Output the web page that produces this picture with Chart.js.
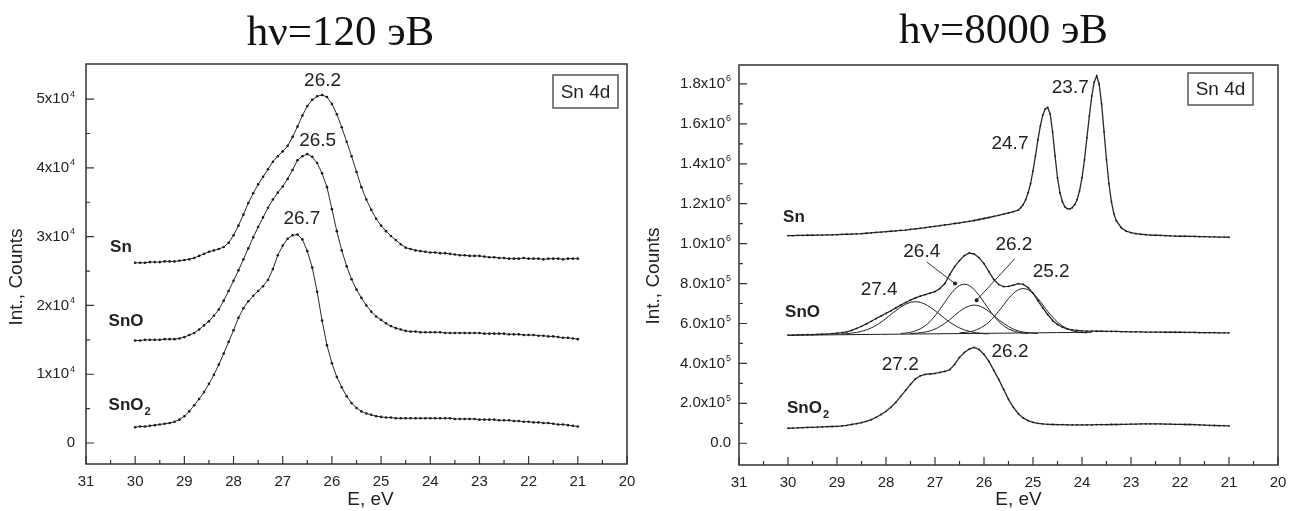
<!DOCTYPE html>
<html>
<head>
<meta charset="utf-8">
<script src="https://cdn.jsdelivr.net/npm/chart.js@4.4.1/dist/chart.umd.min.js"></script>
<style>
  html, body { margin: 0; padding: 0; background: #fff; }
  #wrap { position: relative; width: 1289px; height: 511px; }
  .panel { position: absolute; top: 0; }
  #left { left: 0; }
  #right { left: 640px; }
</style>
</head>
<body>
<div id="wrap">
  <div class="panel" id="left"><canvas id="chartLow" width="640" height="511"></canvas></div>
  <div class="panel" id="right"><canvas id="chartHigh" width="649" height="511"></canvas></div>
</div>
<script>
// Sn 4d spectra, two photon energies

const energyTicks = [31, 30, 29, 28, 27, 26, 25, 24, 23, 22, 21, 20];
// '_' marks a subscript, '^' a superscript (drawn small by drawRich)
const sampleNames = ['Sn', 'SnO', 'SnO_2'];

// hν = 120 eV, intensity in units of 10^4 counts
const lowEnergy = [30.0,29.9,29.8,29.7,29.6,29.5,29.4,29.3,29.2,29.1,29.0,28.9,28.8,28.7,28.6,28.5,28.4,28.3,28.2,28.1,
  28.0,27.9,27.8,27.7,27.6,27.5,27.4,27.3,27.2,27.1,27.0,26.9,26.8,26.7,26.6,26.5,26.4,26.3,26.2,26.1,
  26.0,25.9,25.8,25.7,25.6,25.5,25.4,25.3,25.2,25.1,25.0,24.9,24.8,24.7,24.6,24.5,24.4,24.3,24.2,24.1,
  24.0,23.9,23.8,23.7,23.6,23.5,23.4,23.3,23.2,23.1,23.0,22.9,22.8,22.7,22.6,22.5,22.4,22.3,22.2,22.1,
  22.0,21.9,21.8,21.7,21.6,21.5,21.4,21.3,21.2,21.1,21.0];
const lowSn = [2.62,2.62,2.62,2.63,2.63,2.63,2.64,2.64,2.64,2.65,2.66,2.67,2.69,2.72,2.75,2.78,2.80,2.82,2.85,2.91,
  3.02,3.16,3.32,3.49,3.63,3.76,3.87,3.98,4.09,4.17,4.24,4.32,4.45,4.60,4.76,4.90,4.99,5.04,5.06,5.03,
  4.93,4.78,4.59,4.38,4.17,3.94,3.72,3.54,3.39,3.26,3.16,3.08,3.01,2.95,2.89,2.84,2.82,2.80,2.79,2.78,
  2.77,2.77,2.76,2.76,2.75,2.74,2.73,2.73,2.72,2.72,2.72,2.71,2.70,2.70,2.69,2.69,2.68,2.68,2.68,2.69,
  2.68,2.68,2.68,2.67,2.68,2.68,2.68,2.67,2.68,2.68,2.68];
const lowSnO = [1.49,1.49,1.50,1.50,1.50,1.50,1.51,1.51,1.51,1.52,1.54,1.57,1.60,1.65,1.71,1.77,1.85,1.94,2.07,2.21,
  2.36,2.51,2.67,2.83,2.99,3.14,3.28,3.42,3.54,3.64,3.73,3.84,3.97,4.11,4.17,4.20,4.16,4.07,3.92,3.72,
  3.40,3.08,2.80,2.57,2.38,2.23,2.11,2.00,1.91,1.84,1.79,1.74,1.70,1.67,1.65,1.63,1.62,1.62,1.61,1.61,
  1.61,1.61,1.61,1.60,1.60,1.60,1.60,1.60,1.60,1.60,1.60,1.59,1.59,1.59,1.59,1.59,1.58,1.58,1.58,1.57,
  1.57,1.57,1.56,1.56,1.55,1.55,1.54,1.53,1.53,1.52,1.51];
const lowSnO2 = [0.23,0.24,0.24,0.25,0.26,0.27,0.28,0.29,0.31,0.34,0.39,0.46,0.55,0.64,0.74,0.86,0.99,1.14,1.30,1.47,
  1.64,1.82,1.96,2.06,2.14,2.21,2.28,2.37,2.53,2.73,2.87,2.97,3.02,3.03,2.96,2.79,2.55,2.20,1.78,1.42,
  1.16,0.96,0.81,0.68,0.58,0.51,0.46,0.43,0.41,0.39,0.38,0.37,0.37,0.36,0.36,0.36,0.36,0.36,0.36,0.36,
  0.36,0.36,0.36,0.36,0.36,0.35,0.35,0.35,0.35,0.35,0.34,0.34,0.34,0.34,0.33,0.33,0.33,0.32,0.32,0.31,
  0.31,0.30,0.30,0.29,0.29,0.28,0.27,0.27,0.26,0.25,0.24];
const lowCountTicks = [0, 1, 2, 3, 4, 5];
const lowCountLabels = ['0', '1x10^4', '2x10^4', '3x10^4', '4x10^4', '5x10^4'];
const lowPeakText = ['26.2', '26.5', '26.7'];

// hν = 8000 eV, intensity in units of 10^6 counts
const highEnergy = lowEnergy;
const highSnEnergy = [30.0,29.9,29.8,29.7,29.6,29.5,29.4,29.3,29.2,29.1,29.0,28.9,28.8,28.7,28.6,28.5,28.4,28.3,28.2,28.1,
  28.0,27.9,27.8,27.7,27.6,27.5,27.4,27.3,27.2,27.1,27.0,26.9,26.8,26.7,26.6,26.5,26.4,26.3,26.2,26.1,
  26.0,25.9,25.8,25.7,25.6,25.5,25.4,25.3,
  25.25,25.2,25.15,25.1,25.05,25.0,24.95,24.9,24.85,24.8,24.75,24.7,24.65,24.6,24.55,24.5,24.45,24.4,24.35,24.3,
  24.25,24.2,24.15,24.1,24.05,24.0,23.95,23.9,23.85,23.8,23.75,23.7,23.65,23.6,23.55,23.5,23.45,23.4,23.35,23.3,
  23.2,23.1,23.0,22.9,22.8,22.7,22.6,22.5,22.4,22.3,22.2,22.1,22.0,21.9,21.8,21.7,21.6,21.5,21.4,21.3,21.2,21.1,21.0];
const highSn = [1.040,1.040,1.041,1.041,1.042,1.042,1.043,1.043,1.044,1.044,1.045,1.046,1.047,1.048,1.049,1.050,1.052,1.054,1.056,1.058,
  1.060,1.062,1.064,1.066,1.068,1.071,1.074,1.077,1.080,1.084,1.087,1.090,1.094,1.097,1.101,1.104,1.108,1.112,1.116,1.121,
  1.126,1.131,1.137,1.142,1.148,1.154,1.160,1.168,
  1.180,1.195,1.220,1.255,1.300,1.365,1.440,1.520,1.590,1.645,1.675,1.682,1.650,1.560,1.440,1.330,1.255,1.210,1.185,1.175,
  1.174,1.180,1.195,1.220,1.265,1.330,1.420,1.530,1.640,1.740,1.810,1.840,1.800,1.700,1.560,1.420,1.300,1.210,1.150,1.115,
  1.080,1.063,1.055,1.050,1.047,1.045,1.043,1.042,1.041,1.040,1.039,1.038,1.037,1.037,1.036,1.036,1.035,1.035,1.034,1.034,1.033,1.033,1.032];
const highSnO = [0.542,0.542,0.543,0.543,0.544,0.544,0.545,0.546,0.547,0.549,0.551,0.554,0.558,0.565,0.575,0.586,0.598,0.611,0.625,0.638,
  0.651,0.664,0.678,0.692,0.705,0.717,0.728,0.737,0.745,0.752,0.760,0.775,0.800,0.845,0.885,0.915,0.940,0.953,0.948,0.930,
  0.900,0.860,0.820,0.795,0.785,0.786,0.792,0.800,0.796,0.780,0.752,0.715,0.678,0.645,0.615,0.595,0.581,0.573,0.568,0.565,
  0.563,0.562,0.562,0.561,0.561,0.560,0.560,0.560,0.559,0.559,0.558,0.558,0.558,0.557,0.557,0.557,0.557,0.556,0.556,0.556,
  0.556,0.555,0.555,0.555,0.554,0.554,0.554,0.554,0.553,0.553,0.553];
const highSnO2 = [0.075,0.076,0.077,0.078,0.079,0.080,0.081,0.082,0.083,0.084,0.085,0.087,0.090,0.094,0.098,0.103,0.110,0.118,0.130,0.144,
  0.160,0.180,0.205,0.235,0.265,0.295,0.322,0.338,0.345,0.347,0.350,0.355,0.360,0.368,0.395,0.430,0.455,0.472,0.480,0.470,
  0.445,0.410,0.365,0.320,0.270,0.220,0.180,0.148,0.127,0.113,0.105,0.100,0.097,0.095,0.094,0.093,0.093,0.092,0.092,0.092,
  0.092,0.092,0.092,0.093,0.093,0.093,0.094,0.094,0.095,0.095,0.096,0.096,0.097,0.097,0.097,0.097,0.097,0.096,0.096,0.095,
  0.095,0.094,0.094,0.093,0.092,0.091,0.090,0.089,0.088,0.088,0.087];

// SnO fit: four components and the linear background
const fitEnergy274 = [28.9,28.8,28.7,28.6,28.5,28.4,28.3,28.2,28.1,28.0,27.9,27.8,27.7,27.6,27.5,27.4,27.3,27.2,27.1,27.0,26.9,26.8,26.7,26.6,26.5,26.4,26.3,26.2,26.1,26.0,25.9];
const fit274 = [0.548,0.549,0.552,0.555,0.561,0.568,0.578,0.591,0.607,0.625,0.645,0.664,0.682,0.696,0.706,0.709,0.706,0.696,0.682,0.664,0.645,0.625,0.607,0.591,0.578,0.568,0.561,0.555,0.552,0.549,0.548];
const fitEnergy264 = [27.7,27.6,27.5,27.4,27.3,27.2,27.1,27.0,26.9,26.8,26.7,26.6,26.5,26.4,26.3,26.2,26.1,26.0,25.9,25.8,25.7,25.6,25.5,25.4,25.3,25.2,25.1];
const fit264 = [0.550,0.552,0.556,0.563,0.573,0.589,0.610,0.638,0.671,0.706,0.741,0.770,0.790,0.797,0.790,0.770,0.741,0.706,0.671,0.638,0.610,0.589,0.573,0.563,0.556,0.552,0.550];
const fitEnergy262 = [27.5,27.4,27.3,27.2,27.1,27.0,26.9,26.8,26.7,26.6,26.5,26.4,26.3,26.2,26.1,26.0,25.9,25.8,25.7,25.6,25.5,25.4,25.3,25.2,25.1,25.0,24.9];
const fit262 = [0.550,0.551,0.554,0.557,0.563,0.572,0.585,0.601,0.619,0.640,0.660,0.677,0.688,0.692,0.688,0.677,0.660,0.640,0.619,0.601,0.585,0.572,0.563,0.557,0.554,0.551,0.550];
const fitEnergy252 = [26.5,26.4,26.3,26.2,26.1,26.0,25.9,25.8,25.7,25.6,25.5,25.4,25.3,25.2,25.1,25.0,24.9,24.8,24.7,24.6,24.5,24.4,24.3,24.2,24.1,24.0,23.9];
const fit252 = [0.553,0.555,0.558,0.564,0.574,0.588,0.607,0.632,0.661,0.693,0.725,0.751,0.769,0.775,0.769,0.751,0.725,0.693,0.661,0.632,0.607,0.588,0.574,0.564,0.558,0.555,0.553];
const fitBackgroundEnergy = [30.0, 23.8];
const fitBackground = [0.541, 0.556];

const highCountTicks = [0, 0.2, 0.4, 0.6, 0.8, 1.0, 1.2, 1.4, 1.6, 1.8];
const highCountLabels = ['0.0', '2.0x10^5', '4.0x10^5', '6.0x10^5', '8.0x10^5', '1.0x10^6', '1.2x10^6', '1.4x10^6', '1.6x10^6', '1.8x10^6'];
const highPeakText = ['23.7', '24.7', '26.4', '26.2', '25.2', '27.4', '27.2', '26.2'];

const SANS = '"Liberation Sans", Arial, sans-serif';
const SERIF = '"Liberation Serif", "Times New Roman", serif';
const INK = '#222';

function series(energy, values) {
  return energy.map((e, i) => ({ x: e, y: values[i] }));
}

function measured(energy, values, radius, width) {
  return {
    data: series(energy, values),
    borderColor: '#2a2a2a',
    borderWidth: width,
    pointRadius: radius,
    pointBackgroundColor: '#1a1a1a',
    pointBorderWidth: 0,
    tension: 0
  };
}

function component(energy, values) {
  return {
    data: series(energy, values),
    borderColor: '#1e1e1e',
    borderWidth: 1,
    pointRadius: 0,
    tension: 0.3
  };
}

// text with a trailing superscript ('^') or subscript ('_'), vertically centred on y
function drawRich(ctx, text, x, y, size, weight, align) {
  const m = text.match(/^([^\^_]*)([\^_]?)(.*)$/);
  const base = m[1], mode = m[2], small = m[3];
  const bigFont = weight + ' ' + size + 'px ' + SANS;
  const smallFont = weight + ' ' + Math.round(size * 0.62) + 'px ' + SANS;
  ctx.font = bigFont;
  const wb = ctx.measureText(base).width;
  ctx.font = smallFont;
  const ws = small ? ctx.measureText(small).width + 1 : 0;
  let x0 = x;
  if (align === 'right') x0 = x - wb - ws;
  else if (align === 'center') x0 = x - (wb + ws) / 2;
  ctx.textAlign = 'left';
  ctx.textBaseline = 'middle';
  ctx.font = bigFont;
  ctx.fillText(base, x0, y);
  if (small) {
    ctx.font = smallFont;
    const dy = mode === '^' ? -size * 0.33 : size * 0.4;
    ctx.fillText(small, x0 + wb + 1, y + dy);
  }
}

// frame, inward ticks, count labels, titles and annotations
const spectraDecor = {
  id: 'spectraDecor',
  afterDraw(chart, args, o) {
    const { ctx, chartArea: a, scales: { x, y } } = chart;
    ctx.save();

    ctx.strokeStyle = '#333';
    ctx.lineWidth = 1.5;
    ctx.strokeRect(a.left, a.top, a.right - a.left, a.bottom - a.top);

    const xt = x.ticks.map(t => t.value);
    const yt = y.ticks.map(t => t.value);
    ctx.lineWidth = 1.2;
    ctx.beginPath();
    xt.forEach((v, i) => {
      const px = x.getPixelForValue(v);
      ctx.moveTo(px, a.bottom); ctx.lineTo(px, a.bottom - 8);
      if (i > 0) {
        const pm = x.getPixelForValue((v + xt[i - 1]) / 2);
        ctx.moveTo(pm, a.bottom); ctx.lineTo(pm, a.bottom - 4);
      }
    });
    yt.forEach((v, i) => {
      const py = y.getPixelForValue(v);
      ctx.moveTo(a.left, py); ctx.lineTo(a.left + 8, py);
      if (i > 0) {
        const pm = y.getPixelForValue((v + yt[i - 1]) / 2);
        ctx.moveTo(a.left, pm); ctx.lineTo(a.left + 4, pm);
      }
    });
    ctx.stroke();

    (o.leaders || []).forEach(l => {
      const x0 = x.getPixelForValue(l.from[0]), y0 = y.getPixelForValue(l.from[1]);
      const x1 = x.getPixelForValue(l.to[0]), y1 = y.getPixelForValue(l.to[1]);
      ctx.lineWidth = 1;
      ctx.beginPath(); ctx.moveTo(x0, y0); ctx.lineTo(x1, y1); ctx.stroke();
      ctx.fillStyle = '#222';
      ctx.beginPath(); ctx.arc(x1, y1, 2, 0, Math.PI * 2); ctx.fill();
    });

    ctx.fillStyle = INK;
    o.countLabels.forEach((lab, i) => {
      drawRich(ctx, lab, a.left - o.countPad, y.getPixelForValue(yt[i]), 15, 'normal', 'right');
    });

    ctx.textBaseline = 'alphabetic';
    ctx.textAlign = 'center';
    ctx.font = '43px ' + SERIF;
    ctx.fillStyle = '#111';
    ctx.fillText(o.title, (a.left + a.right) / 2 + o.titleShift, o.titleBaseline);

    ctx.fillStyle = INK;
    ctx.textBaseline = 'middle';
    ctx.font = '19px ' + SANS;
    ctx.fillText('E, eV', (a.left + a.right) / 2 + o.xTitleShift, o.xTitleY);

    ctx.save();
    ctx.translate(o.yTitleX, (a.top + a.bottom) / 2 + o.yTitleShift);
    ctx.rotate(-Math.PI / 2);
    ctx.fillText('Int., Counts', 0, 0);
    ctx.restore();

    o.peaks.forEach(p => {
      ctx.font = '19px ' + SANS;
      ctx.textAlign = 'center';
      ctx.fillText(p.text, x.getPixelForValue(p.e), y.getPixelForValue(p.v));
    });

    o.samples.forEach(s => {
      drawRich(ctx, s.text, x.getPixelForValue(s.e), y.getPixelForValue(s.v), 17, 'bold', 'left');
    });

    const b = o.box;
    const bx = a.right - b.right - b.width, by = a.top + b.top;
    ctx.strokeStyle = '#555';
    ctx.lineWidth = 1.5;
    ctx.strokeRect(bx, by, b.width, b.height);
    ctx.textAlign = 'center';
    ctx.textBaseline = 'middle';
    ctx.font = '19px ' + SANS;
    ctx.fillText(b.text, bx + b.width / 2, by + b.height / 2 + 1);

    ctx.restore();
  }
};

function energyAxis(xHeight) {
  return {
    type: 'linear',
    min: 20,
    max: 31,
    reverse: true,
    afterFit: s => {
      s.height = xHeight;
      // end labels may overhang; the layout padding leaves room for them
      s.paddingLeft = 0;
      s.paddingRight = 0;
    },
    afterBuildTicks: s => { s.ticks = energyTicks.map(v => ({ value: v })); },
    grid: { display: false, drawTicks: false },
    border: { display: false },
    ticks: {
      padding: 9,
      autoSkip: false,
      maxRotation: 0,
      color: INK,
      font: { family: SANS, size: 15 },
      callback: (v, i) => String(energyTicks[i])
    }
  };
}

function countAxis(min, max, width, tickValues) {
  return {
    type: 'linear',
    min: min,
    max: max,
    afterFit: s => { s.width = width; },
    afterBuildTicks: s => { s.ticks = tickValues.map(v => ({ value: v })); },
    grid: { display: false, drawTicks: false },
    border: { display: false },
    ticks: { display: false }
  };
}

new Chart(document.getElementById('chartLow'), {
  type: 'line',
  data: {
    datasets: [
      measured(lowEnergy, lowSn, 1.3, 1),
      measured(lowEnergy, lowSnO, 1.3, 1),
      measured(lowEnergy, lowSnO2, 1.3, 1)
    ]
  },
  options: {
    responsive: false,
    animation: false,
    layout: { padding: { left: 0, right: 13, top: 64, bottom: 0 } },
    scales: {
      x: energyAxis(47),
      y: countAxis(-0.305, 5.51, 86, lowCountTicks)
    },
    plugins: {
      legend: { display: false },
      tooltip: { enabled: false },
      spectraDecor: {
        countLabels: lowCountLabels, countPad: 11,
        title: 'hν=120 эВ', titleShift: -16, titleBaseline: 45,
        xTitleShift: 14, xTitleY: 500,
        yTitleX: 17, yTitleShift: 13,
        box: { text: 'Sn 4d', right: 9, top: 11, width: 65, height: 33 },
        peaks: [
          { text: lowPeakText[0], e: 26.19, v: 5.26 },
          { text: lowPeakText[1], e: 26.29, v: 4.40 },
          { text: lowPeakText[2], e: 26.61, v: 3.26 }
        ],
        samples: [
          { text: sampleNames[0], e: 30.51, v: 2.85 },
          { text: sampleNames[1], e: 30.54, v: 1.77 },
          { text: sampleNames[2], e: 30.54, v: 0.55 }
        ]
      }
    }
  },
  plugins: [spectraDecor]
});

new Chart(document.getElementById('chartHigh'), {
  type: 'line',
  data: {
    datasets: [
      measured(highSnEnergy, highSn, 0.9, 1.3),
      measured(highEnergy, highSnO, 0.9, 1.3),
      measured(highEnergy, highSnO2, 0.9, 1.3),
      component(fitEnergy274, fit274),
      component(fitEnergy264, fit264),
      component(fitEnergy262, fit262),
      component(fitEnergy252, fit252),
      component(fitBackgroundEnergy, fitBackground)
    ]
  },
  options: {
    responsive: false,
    animation: false,
    layout: { padding: { left: 0, right: 11, top: 65, bottom: 0 } },
    scales: {
      x: energyAxis(46),
      y: countAxis(-0.109, 1.895, 99, highCountTicks)
    },
    plugins: {
      legend: { display: false },
      tooltip: { enabled: false },
      spectraDecor: {
        countLabels: highCountLabels, countPad: 8,
        title: 'hν=8000 эВ', titleShift: -5, titleBaseline: 43,
        xTitleShift: 10, xTitleY: 500,
        yTitleX: 14, yTitleShift: 11,
        box: { text: 'Sn 4d', right: 25, top: 8, width: 65, height: 32 },
        peaks: [
          { text: highPeakText[0], e: 24.24, v: 1.783 },
          { text: highPeakText[1], e: 25.47, v: 1.50 },
          { text: highPeakText[2], e: 27.27, v: 0.957 },
          { text: highPeakText[3], e: 25.39, v: 0.992 },
          { text: highPeakText[4], e: 24.63, v: 0.857 },
          { text: highPeakText[5], e: 28.14, v: 0.767 },
          { text: highPeakText[6], e: 27.71, v: 0.392 },
          { text: highPeakText[7], e: 25.47, v: 0.457 }
        ],
        samples: [
          { text: sampleNames[0], e: 30.10, v: 1.132 },
          { text: sampleNames[1], e: 30.06, v: 0.657 },
          { text: sampleNames[2], e: 30.02, v: 0.177 }
        ],
        leaders: [
          { from: [27.17, 0.908], to: [26.59, 0.80] },
          { from: [25.37, 0.925], to: [26.15, 0.717] }
        ]
      }
    }
  },
  plugins: [spectraDecor]
});
</script>
</body>
</html>
